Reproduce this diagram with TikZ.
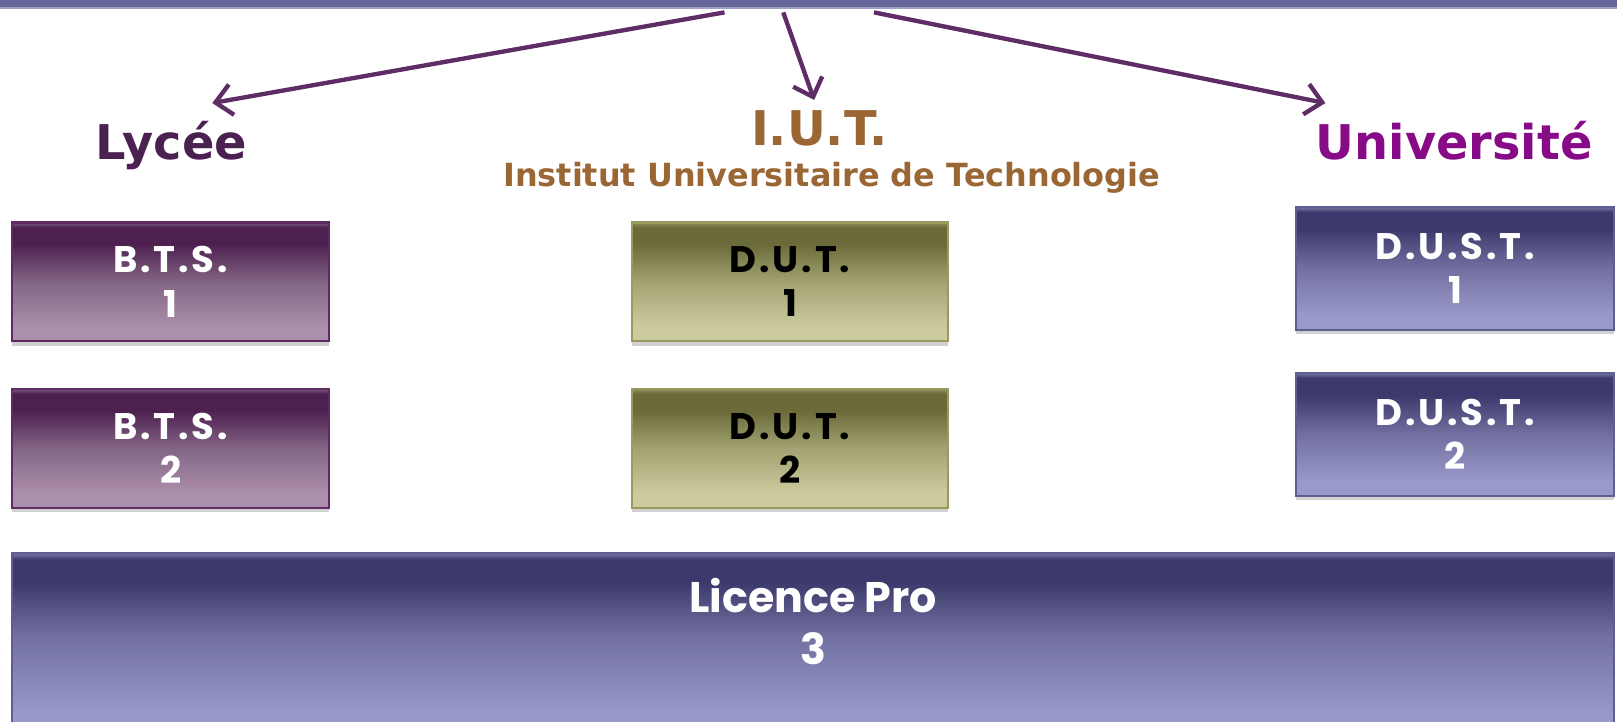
\documentclass[tikz,border=0pt]{standalone}
\usepackage{fontspec}
\setmainfont{DejaVu Sans}
\newfontfamily\boxfont[LetterSpace=8]{Poppins}
\newfontfamily\licfont{Poppins}
\newfontfamily\headfont{DejaVu Sans}
\usetikzlibrary{arrows.meta,shadows}
\definecolor{barc}{HTML}{676799}
\definecolor{barl}{HTML}{A0A0C4}
\definecolor{arrowc}{HTML}{5F2D65}
\definecolor{lycc}{HTML}{4B2151}
\definecolor{iutc}{HTML}{9A6634}
\definecolor{univc}{HTML}{870A87}
\definecolor{btsD}{HTML}{4D2050}
\definecolor{btsM}{HTML}{836585}
\definecolor{btsL}{HTML}{AC8FAC}
\definecolor{btsH}{HTML}{7A5C7D}
\definecolor{btsB}{HTML}{5F2B63}
\definecolor{dutD}{HTML}{6B6B3A}
\definecolor{dutM}{HTML}{A2A272}
\definecolor{dutL}{HTML}{CBCB9E}
\definecolor{dutH}{HTML}{8E8E62}
\definecolor{dutB}{HTML}{9A9A5E}
\definecolor{dustD}{HTML}{3C3A6C}
\definecolor{dustM}{HTML}{7170A0}
\definecolor{dustL}{HTML}{9A9ACA}
\definecolor{dustH}{HTML}{75749F}
\definecolor{dustB}{HTML}{5E5E92}
\pgfdeclareverticalshading{btsshade}{100bp}{color(0bp)=(btsL); color(31bp)=(btsL); color(50bp)=(btsM); color(66bp)=(btsD); color(73bp)=(btsD); color(75bp)=(btsH); color(100bp)=(btsH)}
\pgfdeclareverticalshading{dutshade}{100bp}{color(0bp)=(dutL); color(31bp)=(dutL); color(50bp)=(dutM); color(66bp)=(dutD); color(73bp)=(dutD); color(75bp)=(dutH); color(100bp)=(dutH)}
\pgfdeclareverticalshading{dustshade}{100bp}{color(0bp)=(dustL); color(31bp)=(dustL); color(50bp)=(dustM); color(66bp)=(dustD); color(73bp)=(dustD); color(75bp)=(dustH); color(100bp)=(dustH)}
\pgfdeclareverticalshading{licshade}{100bp}{color(0bp)=(dustL); color(36bp)=(dustL); color(55bp)=(dustM); color(68bp)=(dustD); color(73.5bp)=(dustD); color(75bp)=(dustH); color(100bp)=(dustH)}
\tikzset{
  heading/.style={font=\headfont\bfseries\fontsize{13.2}{16}\selectfont, anchor=base, inner sep=0pt},
  subhead/.style={font=\headfont\bfseries\fontsize{8.8}{10}\selectfont, anchor=base, inner sep=0pt, text=iutc},
  stagebox/.style={rectangle, line width=0.6pt, minimum width=3.07cm, align=center, inner sep=0pt,
     font=\boxfont\bfseries\fontsize{10.2}{12.2}\selectfont,
     drop shadow={shadow xshift=0pt, shadow yshift=-1.2pt, opacity=0.18, fill=black}},
  btsbox/.style={stagebox, draw=btsB, shading=btsshade, text=white, minimum height=1.15cm},
  dutbox/.style={stagebox, draw=dutB, shading=dutshade, text=black, minimum height=1.15cm},
  dustbox/.style={stagebox, draw=dustB, shading=dustshade, text=white, minimum width=3.08cm, minimum height=1.19cm},
  licbox/.style={rectangle, line width=0.6pt, draw=dustB, shading=licshade, minimum width=15.54cm, minimum height=2.0cm,
     drop shadow={shadow xshift=0pt, shadow yshift=-1.2pt, opacity=0.18, fill=black}},
  lictext/.style={font=\licfont\bfseries\fontsize{11.8}{14.2}\selectfont, text=white, align=center, inner sep=0pt},
  conn/.style={draw=arrowc, line width=1.2pt, -{Straight Barb[length=4.5pt,width=8.5pt,line width=1.2pt]}}
}
\begin{document}
\begin{tikzpicture}[x=0.01cm,y=-0.01cm]
\useasboundingbox (0,0) rectangle (1569,700);
% top bar
\fill[barc] (0,-2) rectangle (1569,7);
\draw[barl, line width=0.7pt] (0,7.8) -- (1569,7.8);
% connector ends
\coordinate (s1) at (703,12);
\coordinate (s2) at (760,12);
\coordinate (s3) at (848,12);
\coordinate (e1) at (206,100);
\coordinate (e2) at (790,97);
\coordinate (e3) at (1286,100);
\draw[conn] (s1) -- (e1);
\draw[conn] (s2) -- (e2);
\draw[conn] (s3) -- (e3);
% headings
\node[heading, text=lycc] (lycee) at (166,155) {Lycée};
\node[heading, text=iutc] (iut) at (795,141) {I.U.T.};
\node[subhead] (iutfull) at (807,181) {Institut Universitaire de Technologie};
\node[heading, text=univc] (univ) at (1411,155) {Université};
% boxes
\node[btsbox] (bts1) at (165.5,273.5) {B.T.S.\\1};
\node[btsbox] (bts2) at (165.5,435) {B.T.S.\\2};
\node[dutbox] (dut1) at (766.5,273.5) {D.U.T.\\1};
\node[dutbox] (dut2) at (766.5,435) {D.U.T.\\2};
\node[dustbox] (dust1) at (1412,260.5) {D.U.S.T.\\1};
\node[dustbox] (dust2) at (1412,421.5) {D.U.S.T.\\2};
\node[licbox] (lic) at (789,637) {};
\node[lictext] (lict) at (789,603) {Licence Pro\\3};
\end{tikzpicture}
\end{document}
